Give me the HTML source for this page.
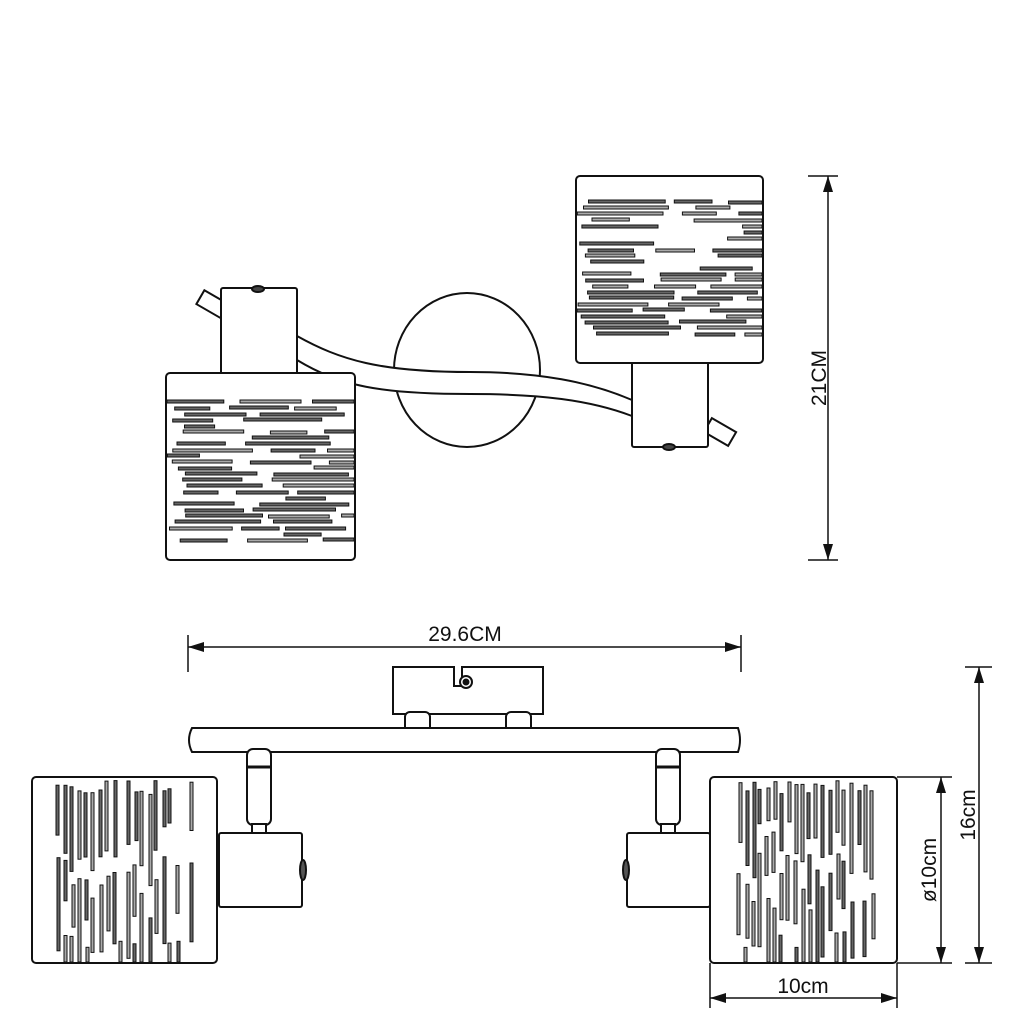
<!DOCTYPE html>
<html><head><meta charset="utf-8"><style>
html,body{margin:0;padding:0;background:#fff}
svg{display:block}
text{font-family:"Liberation Sans",sans-serif;font-size:21px;fill:#111}
</style></head><body>
<svg id="s" width="1024" height="1024" viewBox="0 0 1024 1024" xmlns="http://www.w3.org/2000/svg">
<defs>
<marker id="a" viewBox="0 0 16 10" refX="16" refY="5" markerWidth="16" markerHeight="10" markerUnits="userSpaceOnUse" orient="auto-start-reverse"><path d="M0,0 L16,5 L0,10 Z" fill="#111"/></marker>
</defs>
<g fill="#fff" stroke="#111" stroke-width="2">
<g transform="rotate(30 212 305)"><rect x="198" y="296" width="28" height="16"/></g>
<g transform="rotate(30 720 432)"><rect x="706" y="424" width="28" height="16"/></g>
<ellipse cx="467" cy="370" rx="73" ry="77"/>
<path d="M297,336 C340,360 380,372 470,372 C540,372 590,382 632,400 L632,416 C590,400 540,394 470,394 C380,394 340,386 297,360 Z"/>
<rect x="221" y="288" width="76" height="86" rx="2"/>
<rect x="632" y="362" width="76" height="85" rx="2"/>
<ellipse cx="258" cy="289" rx="6" ry="3" fill="#444"/>
<ellipse cx="669" cy="447" rx="6" ry="3" fill="#444"/>
<rect x="166" y="373" width="189" height="187" rx="4"/>
<rect x="576" y="176" width="187" height="187" rx="4"/>
<g id="t1" stroke-width="1"></g>
<path d="M393,667 L454,667 L454,686 L462,686 L462,667 L543,667 L543,714 L393,714 Z"/>
<circle cx="466" cy="682" r="6"/><circle cx="466" cy="682" r="2.5" fill="#111"/>
<rect x="405" y="712" width="25" height="20" rx="5"/>
<rect x="506" y="712" width="25" height="20" rx="5"/>
<path d="M192,728 L738,728 Q742,740 738,752 L192,752 Q186,740 192,728 Z"/>
<rect x="247" y="749" width="24" height="76" rx="6"/>
<line x1="247" y1="767" x2="271" y2="767" stroke-width="3"/>
<rect x="252" y="824" width="14" height="9"/>
<rect x="656" y="749" width="24" height="76" rx="6"/>
<line x1="656" y1="767" x2="680" y2="767" stroke-width="3"/>
<rect x="661" y="824" width="14" height="9"/>
<rect x="219" y="833" width="83" height="74" rx="2"/>
<rect x="627" y="833" width="83" height="74" rx="2"/>
<ellipse cx="303" cy="870" rx="3" ry="10" fill="#555"/>
<ellipse cx="626" cy="870" rx="3" ry="10" fill="#555"/>
<rect x="32" y="777" width="185" height="186" rx="4"/>
<rect x="710" y="777" width="187" height="186" rx="4"/>
<g id="t2" stroke-width="1"></g>
</g>
<g stroke="#111" stroke-width="1.5" fill="none">
<line x1="808" y1="176" x2="838" y2="176"/><line x1="808" y1="560" x2="838" y2="560"/>
<line x1="828" y1="176" x2="828" y2="560" marker-start="url(#a)" marker-end="url(#a)"/>
<line x1="188" y1="635" x2="188" y2="672"/><line x1="741" y1="635" x2="741" y2="672"/>
<line x1="188" y1="647" x2="741" y2="647" marker-start="url(#a)" marker-end="url(#a)"/>
<line x1="897" y1="777" x2="952" y2="777"/><line x1="897" y1="963" x2="952" y2="963"/>
<line x1="941" y1="777" x2="941" y2="963" marker-start="url(#a)" marker-end="url(#a)"/>
<line x1="965" y1="667" x2="992" y2="667"/><line x1="965" y1="963" x2="992" y2="963"/>
<line x1="979" y1="667" x2="979" y2="963" marker-start="url(#a)" marker-end="url(#a)"/>
<line x1="710" y1="963" x2="710" y2="1008"/><line x1="897" y1="963" x2="897" y2="1008"/>
<line x1="710" y1="998" x2="897" y2="998" marker-start="url(#a)" marker-end="url(#a)"/>
</g>
<text x="465" y="641" text-anchor="middle">29.6CM</text>
<text transform="translate(826,378) rotate(-90)" text-anchor="middle">21CM</text>
<text transform="translate(936,870) rotate(-90)" text-anchor="middle">ø10cm</text>
<text transform="translate(975,815) rotate(-90)" text-anchor="middle">16cm</text>
<text x="803" y="993" text-anchor="middle">10cm</text>
</svg>
<script>
var seed=11;function r(){seed=(seed*16807)%2147483647;return (seed-1)/2147483646;}
var NS="http://www.w3.org/2000/svg";
function rect(g,x,y,w,h,f){var e=document.createElementNS(NS,"rect");e.setAttribute("x",x);e.setAttribute("y",y);e.setAttribute("width",w);e.setAttribute("height",h);e.setAttribute("fill",f);g.appendChild(e);}
var t1=document.getElementById("t1"),t2=document.getElementById("t2");
function hz(x0,x1,y0,y1){for(var y=y0;y<y1;y+=6){var x=x0+r()*20;while(x<x1-10){var w=30+r()*60;if(x+w>x1)w=x1-x;if(r()<0.8)rect(t1,x.toFixed(1),y+(r()*2|0),w.toFixed(1),3,r()<0.5?"#aaa":"#666");x+=w+6+r()*25;}}}
hz(167,354,400,540);hz(577,762,200,334);
function vt(x0,x1,y0,y1){for(var x=x0;x<x1;x+=7){var y=y0+r()*15;while(y<y1-10){var h=30+r()*70;if(y+h>y1)h=y1-y;if(r()<0.8)rect(t2,x+(r()*3|0),y.toFixed(1),3,h.toFixed(1),r()<0.5?"#aaa":"#666");y+=h+6+r()*30;}}}
vt(56,190,780,962);vt(737,872,780,962);
</script>
</body></html>
